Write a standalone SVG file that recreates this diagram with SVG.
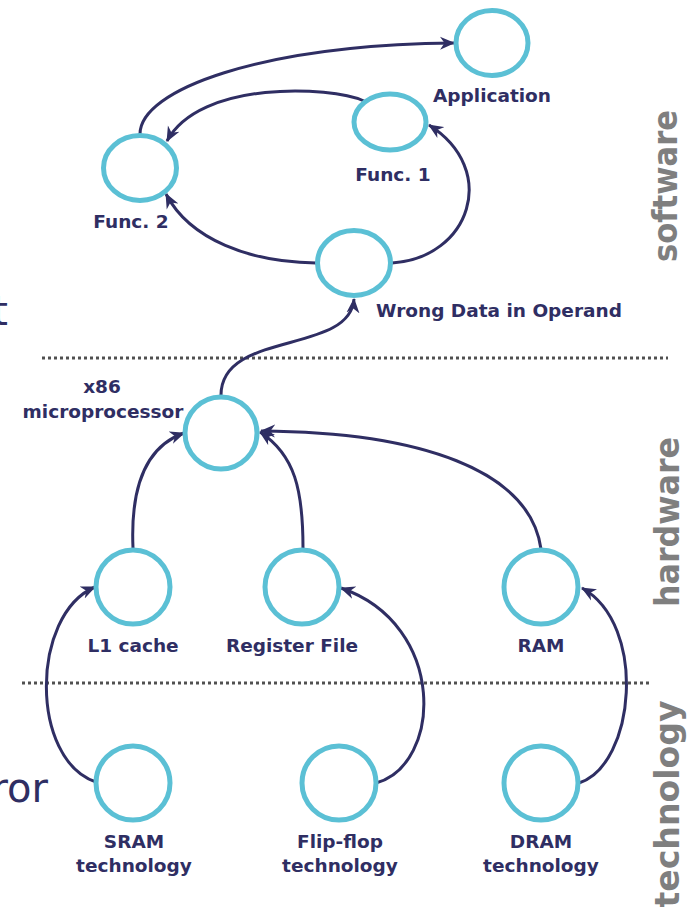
<svg xmlns="http://www.w3.org/2000/svg" width="695" height="910" viewBox="0 0 695 910">
  <style>
    .node { fill: none; stroke: #5bc0d5; stroke-width: 5; }
    .lbl { font-family: "DejaVu Sans", "Liberation Sans", sans-serif; font-weight: bold; font-size: 18.5px; fill: #2f2e63; text-anchor: middle; }
    .layer { font-family: "DejaVu Sans", "Liberation Sans", sans-serif; font-weight: bold; font-size: 34px; fill: #7f7f7f; text-anchor: middle; }
    .edge { fill: none; stroke: #2f2e63; stroke-width: 3; marker-end: url(#arrow); }
    .sep { stroke: #505050; stroke-width: 3; stroke-dasharray: 3 3; }
    .side { font-family: "DejaVu Sans", "Liberation Sans", sans-serif; font-size: 40px; fill: #2f2e63; }
  </style>
  <defs>
    <marker id="arrow" markerUnits="userSpaceOnUse" markerWidth="15" markerHeight="14" viewBox="0 0 15 14" refX="14" refY="7" orient="auto">
      <path d="M0,0.5 L15,7 L0,13.5 L4.5,7 z" fill="#2f2e63"/>
    </marker>
  </defs>

  <rect width="695" height="910" fill="#ffffff"/>

  <!-- partially visible text at the left edge -->
  <text class="side" x="8" y="325" text-anchor="end">t</text>
  <text class="side" x="48" y="802" text-anchor="end">ror</text>

  <!-- layer separators -->
  <line class="sep" x1="42" y1="358" x2="668" y2="358"/>
  <line class="sep" x1="22" y1="683" x2="652" y2="683"/>

  <!-- layer names -->
  <text class="layer" transform="translate(677,186) rotate(-90)" textLength="152" lengthAdjust="spacingAndGlyphs">software</text>
  <text class="layer" transform="translate(679,522) rotate(-90)" textLength="170" lengthAdjust="spacingAndGlyphs">hardware</text>
  <text class="layer" transform="translate(679,804) rotate(-90)" textLength="207" lengthAdjust="spacingAndGlyphs">technology</text>

  <!-- connectors -->
  <g id="connectors">
    <path class="edge" d="M140,134 C140,90 260,45 454,43"/>
    <path class="edge" d="M364,101 C330,86 200,80 167,141"/>
    <path class="edge" d="M316,263 C250,262 190,240 166,194"/>
    <path class="edge" d="M392,263 C470,258 500,170 429,125"/>
    <path class="edge" d="M221,396 C220,330 350,355 354,299"/>
    <path class="edge" d="M133,548 C130,480 150,445 184,433"/>
    <path class="edge" d="M303,548 C303,490 295,455 260,432"/>
    <path class="edge" d="M541,549 C530,470 420,432 261,431"/>
    <path class="edge" d="M96,782 C30,760 30,615 95,587"/>
    <path class="edge" d="M376,783 C442,765 448,625 341,588"/>
    <path class="edge" d="M579,783 C635,765 648,625 582,588"/>
  </g>

  <!-- software layer -->
  <g id="application">
    <ellipse class="node" cx="492" cy="43" rx="36" ry="32.5"/>
    <text class="lbl" x="492" y="102">Application</text>
  </g>
  <g id="func1">
    <ellipse class="node" cx="390" cy="122" rx="36" ry="28"/>
    <text class="lbl" x="393" y="181">Func. 1</text>
  </g>
  <g id="func2">
    <ellipse class="node" cx="140" cy="168" rx="36.5" ry="32.5"/>
    <text class="lbl" x="131" y="228">Func. 2</text>
  </g>
  <g id="wrong-data">
    <ellipse class="node" cx="354" cy="263" rx="36.5" ry="32.5"/>
    <text class="lbl" x="499" y="317">Wrong Data in Operand</text>
  </g>

  <!-- hardware layer -->
  <g id="x86">
    <circle class="node" cx="221" cy="433" r="36"/>
    <text class="lbl" x="102" y="393">x86</text>
    <text class="lbl" x="103" y="418">microprocessor</text>
  </g>
  <g id="l1-cache">
    <circle class="node" cx="133" cy="587" r="37"/>
    <text class="lbl" x="133" y="652">L1 cache</text>
  </g>
  <g id="register-file">
    <circle class="node" cx="302" cy="587" r="37"/>
    <text class="lbl" x="292" y="652">Register File</text>
  </g>
  <g id="ram">
    <circle class="node" cx="541" cy="587" r="37"/>
    <text class="lbl" x="541" y="652">RAM</text>
  </g>

  <!-- technology layer -->
  <g id="sram">
    <circle class="node" cx="133" cy="783" r="37"/>
    <text class="lbl" x="134" y="848">SRAM</text>
    <text class="lbl" x="134" y="872">technology</text>
  </g>
  <g id="flip-flop">
    <circle class="node" cx="339" cy="783" r="37"/>
    <text class="lbl" x="340" y="848">Flip-flop</text>
    <text class="lbl" x="340" y="872">technology</text>
  </g>
  <g id="dram">
    <circle class="node" cx="541" cy="783" r="37"/>
    <text class="lbl" x="541" y="848">DRAM</text>
    <text class="lbl" x="541" y="872">technology</text>
  </g>
</svg>
